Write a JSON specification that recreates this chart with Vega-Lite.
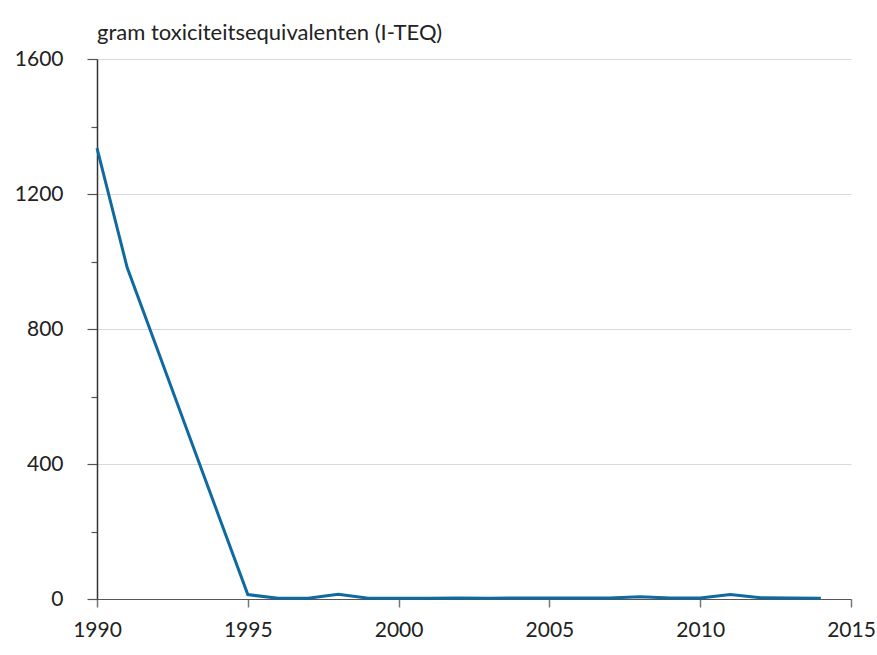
{
  "$schema": "https://vega.github.io/schema/vega-lite/v6.json",
  "width": 754,
  "height": 540,
  "autosize": {"type": "none"},
  "padding": {"left": 97, "top": 59, "right": 26, "bottom": 56},
  "background": "white",
  "config": {"view": {"stroke": null}, "font": "Lato"},
  "title": {"text": "gram toxiciteitsequivalenten (I-TEQ)", "anchor": "start", "frame": "group", "fontSize": 22, "fontWeight": "normal", "color": "#222", "font": "Lato", "offset": 3},
  "data": {"values": [
    {"year": 1990, "value": 1336},
    {"year": 1991, "value": 982},
    {"year": 1992, "value": 740},
    {"year": 1993, "value": 497},
    {"year": 1994, "value": 255},
    {"year": 1995, "value": 13},
    {"year": 1996, "value": 2},
    {"year": 1997, "value": 2},
    {"year": 1998, "value": 14},
    {"year": 1999, "value": 2},
    {"year": 2000, "value": 2},
    {"year": 2001, "value": 2},
    {"year": 2002, "value": 3},
    {"year": 2003, "value": 2},
    {"year": 2004, "value": 3},
    {"year": 2005, "value": 3},
    {"year": 2006, "value": 3},
    {"year": 2007, "value": 3},
    {"year": 2008, "value": 7},
    {"year": 2009, "value": 3},
    {"year": 2010, "value": 3},
    {"year": 2011, "value": 13},
    {"year": 2012, "value": 4},
    {"year": 2013, "value": 3},
    {"year": 2014, "value": 2}
  ]},
  "mark": {"type": "line", "color": "#0f6aa0", "strokeWidth": 3},
  "encoding": {
    "x": {
      "field": "year", "type": "quantitative",
      "scale": {"domain": [1990, 2015], "nice": false, "zero": false},
      "axis": {"title": null, "values": [1990, 1995, 2000, 2005, 2010, 2015], "format": "d", "grid": false, "labelFlush": false,
        "domainColor": "#555", "domainWidth": 1.2, "tickColor": "#777", "tickWidth": 1.5, "tickSize": 8,
        "labelFontSize": 21, "labelColor": "#222", "labelPadding": 12, "labelFont": "Lato"}
    },
    "y": {
      "field": "value", "type": "quantitative",
      "scale": {"domain": [0, 1600], "nice": false},
      "axis": {"title": null, "values": [0, 200, 400, 600, 800, 1000, 1200, 1400, 1600],
        "labelExpr": "datum.value % 400 === 0 ? datum.value : ''",
        "domainColor": "#333", "domainWidth": 1.5, "tickColor": "#555", "tickWidth": 1.2,
        "tickSize": {"condition": {"test": "datum.value % 400 === 0", "value": 10}, "value": 6},
        "grid": true,
        "gridColor": {"condition": {"test": "datum.value % 400 === 0 && datum.value > 0", "value": "#d9d9d9"}, "value": "rgba(0,0,0,0)"},
        "labelFontSize": 21, "labelColor": "#222", "labelPadding": 24, "labelFont": "Lato"}
    }
  }
}
